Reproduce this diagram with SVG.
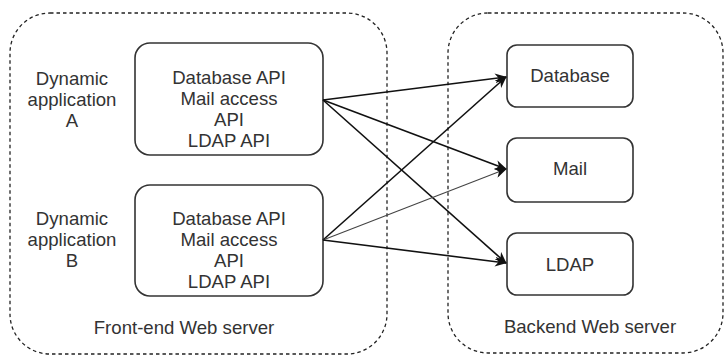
<svg xmlns="http://www.w3.org/2000/svg" width="725" height="358" viewBox="0 0 725 358">
  <style>
    text { font-family: "Liberation Sans", Arial, sans-serif; font-size: 18.6px; fill: #333; text-anchor: middle; }
    .zone { fill: none; stroke: #222; stroke-width: 1.3; stroke-dasharray: 3.5 3; }
    .box { fill: #fff; stroke: #333; stroke-width: 1.6; }
    .edge { fill: none; stroke: #111; stroke-width: 1.6; marker-end: url(#arrow); }
    .edge.thin { stroke: #444; stroke-width: 1.1; }
  </style>
  <defs>
    <marker id="arrow" viewBox="0 0 12 10" refX="11" refY="5" markerWidth="12" markerHeight="10" markerUnits="userSpaceOnUse" orient="auto">
      <path d="M0,0 L12,5 L0,10 L3.5,5 Z" fill="#111"/>
    </marker>
  </defs>

  <!-- server zones -->
  <g id="frontend-server">
    <rect class="zone" x="10" y="13" width="377" height="341" rx="40"/>
    <text x="184" y="334">Front-end Web server</text>
  </g>
  <g id="backend-server">
    <rect class="zone" x="448" y="13" width="275" height="340" rx="40"/>
    <text x="590" y="333">Backend Web server</text>
  </g>

  <!-- application labels -->
  <g id="app-a-label">
    <text x="72" y="85">Dynamic</text>
    <text x="72" y="106">application</text>
    <text x="72" y="127">A</text>
  </g>
  <g id="app-b-label">
    <text x="72" y="225">Dynamic</text>
    <text x="72" y="246">application</text>
    <text x="72" y="267">B</text>
  </g>

  <!-- API blocks -->
  <g id="api-a">
    <rect class="box" x="135" y="43" width="188" height="112" rx="15"/>
    <text x="229" y="84">Database API</text>
    <text x="229" y="105">Mail access</text>
    <text x="229" y="126">API</text>
    <text x="229" y="147">LDAP API</text>
  </g>
  <g id="api-b">
    <rect class="box" x="135" y="185" width="188" height="111" rx="15"/>
    <text x="229" y="225">Database API</text>
    <text x="229" y="246">Mail access</text>
    <text x="229" y="267">API</text>
    <text x="229" y="288">LDAP API</text>
  </g>

  <!-- backend services -->
  <g id="database">
    <rect class="box" x="507" y="45" width="126" height="62" rx="10"/>
    <text x="570" y="82">Database</text>
  </g>
  <g id="mail">
    <rect class="box" x="507" y="138" width="126" height="64" rx="10"/>
    <text x="570" y="175">Mail</text>
  </g>
  <g id="ldap">
    <rect class="box" x="507" y="233" width="126" height="62" rx="10"/>
    <text x="570" y="271">LDAP</text>
  </g>

  <!-- connectors -->
  <g id="connectors">
    <line class="edge" x1="323" y1="100" x2="506" y2="77"/>
    <line class="edge" x1="323" y1="100" x2="506" y2="169"/>
    <line class="edge" x1="323" y1="100" x2="506" y2="263"/>
    <line class="edge" x1="323" y1="240" x2="506" y2="77"/>
    <line class="edge thin" x1="323" y1="240" x2="506" y2="169"/>
    <line class="edge" x1="323" y1="240" x2="506" y2="263"/>
  </g>
</svg>
